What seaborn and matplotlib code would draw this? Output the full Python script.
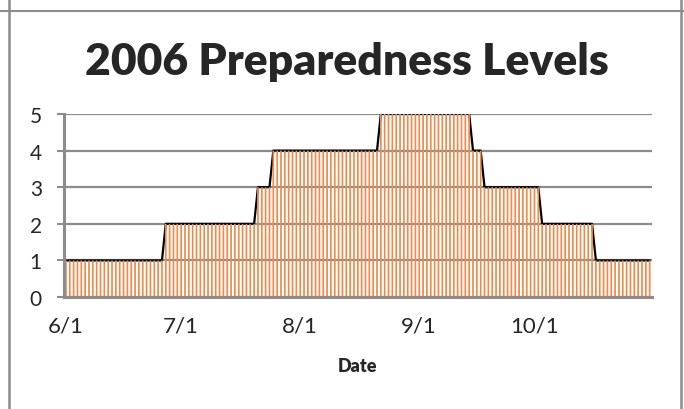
"""2006 Preparedness Levels: daily level bars with a step line on top."""
import numpy as np
import pandas as pd
import matplotlib
matplotlib.use('Agg')
import matplotlib.pyplot as plt
import seaborn as sns

# daily preparedness level, stored as runs (level, number of days), 6/1 .. 10/31
run_levels = [1, 2, 3, 4, 5, 4, 3, 2, 1]
run_days = [26, 24, 4, 28, 24, 3, 15, 14, 15]
start_date = '2006-06-01'
tick_dates = ['2006-06-01', '2006-07-01', '2006-08-01', '2006-09-01', '2006-10-01']
tick_labels = ['6/1', '7/1', '8/1', '9/1', '10/1']

levels = np.repeat(run_levels, run_days)
dates = pd.date_range(start_date, periods=len(levels), freq='D')
df = pd.DataFrame({'day': np.arange(len(levels)), 'date': dates, 'level': levels})

sns.set_theme(style='white')
plt.rcParams['font.family'] = ['Lato', 'DejaVu Sans']

GRAY = '#8c8c8c'
fig = plt.figure(figsize=(6.84, 4.10), dpi=100)
ax = fig.add_axes([0.0936, 0.273, 0.859, 0.4465])

sns.barplot(data=df, x='day', y='level', color='#ec8c4c', width=0.45,
            linewidth=0, edgecolor='none', errorbar=None, saturation=1,
            ax=ax, zorder=3)
for p in ax.patches:
    p.set_snap(False)
sns.lineplot(data=df, x='day', y='level', color='black', linewidth=1.6,
             errorbar=None, ax=ax, zorder=2)

ax.set_xlim(-0.5, len(levels) - 0.5)
ax.set_ylim(0, 5)
ax.set_yticks(range(6))
ax.set_yticklabels([str(i) for i in range(6)])
pos = [int((pd.Timestamp(d) - pd.Timestamp(start_date)).days) for d in tick_dates]
ax.set_xticks(pos)
ax.set_xticklabels(tick_labels)
ax.tick_params(axis='y', length=5, width=1.5, color=GRAY, pad=11, labelsize=15, left=True)
ax.tick_params(axis='x', length=0, pad=13, labelsize=16)
ax.grid(axis='y', color=GRAY, linewidth=1.6, zorder=1)
ax.set_axisbelow(True)
for s in ['top', 'right']:
    ax.spines[s].set_visible(False)
for s in ['left', 'bottom']:
    ax.spines[s].set_color(GRAY)
    ax.spines[s].set_linewidth(2.2)
    ax.spines[s].set_zorder(4)
ax.set_ylabel('')
ax.set_xlabel('Date', fontsize=13, fontweight='heavy', labelpad=16)

fig.text(0.507, 0.85, '2006 Preparedness Levels', ha='center', va='center',
         fontsize=32, fontweight='heavy')

# outer frame of the chart
fig.add_artist(plt.Line2D([0, 1], [1 - 12 / 410] * 2, color=GRAY, lw=1.5))
fig.add_artist(plt.Line2D([9 / 684] * 2, [0, 1], color=GRAY, lw=1.8))
fig.add_artist(plt.Line2D([681 / 684] * 2, [0, 1], color=GRAY, lw=1.8))

fig.savefig('out.png', dpi=100)
